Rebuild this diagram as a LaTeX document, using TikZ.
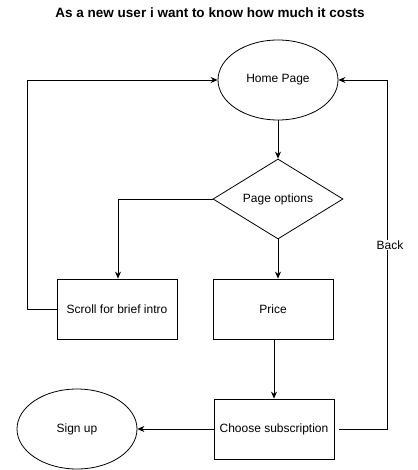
\documentclass[tikz,border=0pt]{standalone}
\usepackage{fontspec}
\setmainfont{Liberation Sans}
\usetikzlibrary{shapes.geometric,arrows.meta}
\begin{document}
\begin{tikzpicture}[x=1pt,y=-1pt,
  every node/.style={font=\fontsize{12}{14}\selectfont},
  ell/.style={draw,ellipse,minimum width=120pt,minimum height=80pt,inner sep=0pt,line width=0.8pt},
  box/.style={draw,rectangle,minimum width=120pt,minimum height=60pt,inner sep=0pt,line width=0.8pt},
  dia/.style={draw,diamond,minimum width=130pt,minimum height=80pt,inner sep=0pt,aspect=1.625,line width=0.8pt},
  conn/.style={line width=0.8pt,-{Stealth[length=7pt,width=6pt]}},
  plain/.style={line width=0.8pt}]
\useasboundingbox (0,0) rectangle (417,470);
\node[font=\fontsize{13.5}{16}\bfseries] (title) at (210,13) {As a new user i want to know how much it costs};
\node[ell] (home) at (278,80) {Home Page};
\node[dia] (opt) at (278,199) {Page options};
\node[box] (scroll) at (117,309) {Scroll for brief intro};
\node[box] (price) at (273,309) {Price};
\node[box] (choose) at (274,429) {Choose subscription};
\node[ell] (sign) at (77,429) {Sign up};
\coordinate (bl1) at (27,309);
\coordinate (bl2) at (27,80);
\coordinate (br1) at (387,429);
\coordinate (br2) at (387,80);
\coordinate (ol) at (118,199);
\draw[conn] (home) -- (opt);
\draw[conn] (opt.west) -- (ol) -- (scroll.north -| ol);
\draw[conn] (opt.south) -- (opt.south |- price.north);
\draw[conn] (price.south -| choose.north) -- (choose.north);
\draw[conn] (choose.west) -- (sign.east);
\draw[conn] (scroll.west) -- (bl1) -- (bl2) -- (home.west);
\draw[conn,shorten <=5pt] (choose.east) -- (br1) -- (br2) -- (home.east);
\node[fill=white,inner sep=1pt] (back) at (390,245) {Back};
\end{tikzpicture}
\end{document}
